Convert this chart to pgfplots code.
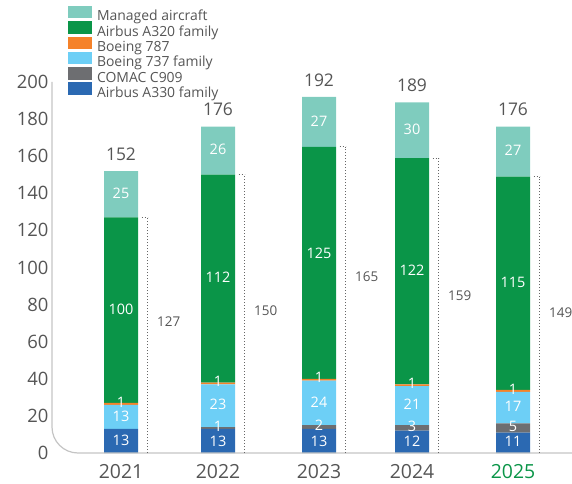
\documentclass[border=0pt]{standalone}
\usepackage{pgfplots}
\pgfplotsset{compat=1.18}
\usepackage{pgfplotstable}
\usepackage{fontspec}
\setmainfont{Open Sans}
\definecolor{cMan}{HTML}{7FCCBE}
\definecolor{cA320}{HTML}{0A9548}
\definecolor{cB787}{HTML}{F5822A}
\definecolor{cB737}{HTML}{6DCFF6}
\definecolor{cC909}{HTML}{6D6E71}
\definecolor{cA330}{HTML}{2B69B2}
\definecolor{tgray}{HTML}{555555}
\definecolor{caxis}{HTML}{C4C4C4}
\definecolor{cdot}{HTML}{666666}

\pgfdeclareplotmark{lefttick}{%
  \pgfpathmoveto{\pgfpoint{-6bp}{0pt}}%
  \pgfpathlineto{\pgfpoint{0pt}{0pt}}%
  \pgfusepathqstroke}

\pgfplotstableread{
x a330 c909 b737 b787 a320 managed total owned ownedy
121 13 0 13 1 100 25 152 127 71
218 13 1 23 1 112 26 176 150 76.5
319 13 2 24 1 125 27 192 165 95
412 12 3 21 1 122 30 189 159 85
513 11 5 17 1 115 27 176 149 75.5
}\data

\pgfplotstableread{
x y lab
121 6.5 13
121 19 13
121 27 1
121 77 100
121 139.5 25
218 6 13
218 14 1
218 25.5 23
218 38 1
218 94 112
218 163 26
319 6 13
319 14.5 2
319 27 24
319 40 1
319 107 125
319 178.5 27
412 6 12
412 14 3
412 25.5 21
412 37 1
412 98 122
412 174 30
513 5.5 11
513 14 5
513 24.5 17
513 34 1
513 91.5 115
513 162.5 27
}\innerlab

\pgfplotsset{
  base/.style={
    width=520bp, height=371bp, scale only axis,
    xmin=52, xmax=572, ymin=0, ymax=200,
    at={(52bp,31bp)}, anchor=south west, clip=false,
  }
}

\begin{document}
\begin{tikzpicture}
\useasboundingbox (0,0) rectangle (572bp,484bp);
\begin{axis}[base,
  axis line style={draw=none},
  ybar stacked, bar width=34,
  ytick={0,20,...,200},
  xtick={121,218,319,412,513},
  xticklabels={2021,2022,2023,2024,{\textcolor{cA320}{2025}}},
  major tick length=0pt, tick style={draw=none},
  /pgf/number format/assume math mode=true,
  ticklabel style={font=\fontsize{18.5}{21}\selectfont, text=tgray},
  xticklabel style={yshift=-8bp, font=\fontsize{19.5}{22}\selectfont},
  reverse legend,
  legend image code/.code={\fill[#1] (0bp,-1bp) rectangle (24bp,11.5bp);},
  legend cell align=left,
  legend style={at={(0.0308,1.205)}, anchor=north west, draw=none, fill=none,
    inner sep=0pt, outer sep=0pt, row sep=-2.2bp,
    font=\fontsize{14}{15}\selectfont, text=tgray,
    nodes={inner sep=0pt, text height=9.5bp, text depth=2.5bp},
    /tikz/every odd column/.append style={column sep=5bp}},
]
\draw[draw=caxis, line width=1.2bp, rounded corners=26bp]
  (rel axis cs:0,1) -- (rel axis cs:0,0) -- (rel axis cs:1,0);
\addplot[fill=cA330, draw=none] table[x=x, y=a330]{\data};
\addlegendentry{Airbus A330 family}
\addplot[fill=cC909, draw=none] table[x=x, y=c909]{\data};
\addlegendentry{COMAC C909}
\addplot[fill=cB737, draw=none] table[x=x, y=b737]{\data};
\addlegendentry{Boeing 737 family}
\addplot[fill=cB787, draw=none] table[x=x, y=b787]{\data};
\addlegendentry{Boeing 787}
\addplot[fill=cA320, draw=none] table[x=x, y=a320]{\data};
\addlegendentry{Airbus A320 family}
\addplot[fill=cMan, draw=none] table[x=x, y=managed]{\data};
\addlegendentry{Managed aircraft}
\end{axis}

\begin{axis}[base, hide axis]
% dotted owned-fleet markers
\addplot[ycomb, draw=cdot, line width=1bp, dash pattern=on 1.5bp off 1.5bp,
  mark=lefttick, mark options={draw=cdot, line width=1bp, dash pattern=on 1.5bp off 1.5bp}]
  table[x expr=\thisrow{x}+26.5, y=owned]{\data};
% owned labels
\addplot[draw=none, nodes near coords, point meta=explicit symbolic,
  nodes near coords style={anchor=west, inner sep=0pt, font=\fontsize{13.5}{15}\selectfont, text=tgray}]
  table[x expr=\thisrow{x}+36, y=ownedy, meta=owned]{\data};
% totals
\addplot[draw=none, nodes near coords, point meta=explicit symbolic,
  nodes near coords style={anchor=center, inner sep=0pt, yshift=17bp, font=\fontsize{17.5}{19}\selectfont, text=tgray}]
  table[x=x, y=total, meta=total]{\data};
% inner labels
\addplot[draw=none, nodes near coords, point meta=explicit symbolic,
  nodes near coords style={anchor=center, inner sep=0pt, yshift=1bp, font=\fontsize{14.5}{16}\selectfont, text=white}]
  table[x=x, y=y, meta=lab]{\innerlab};
\end{axis}
\end{tikzpicture}
\end{document}
